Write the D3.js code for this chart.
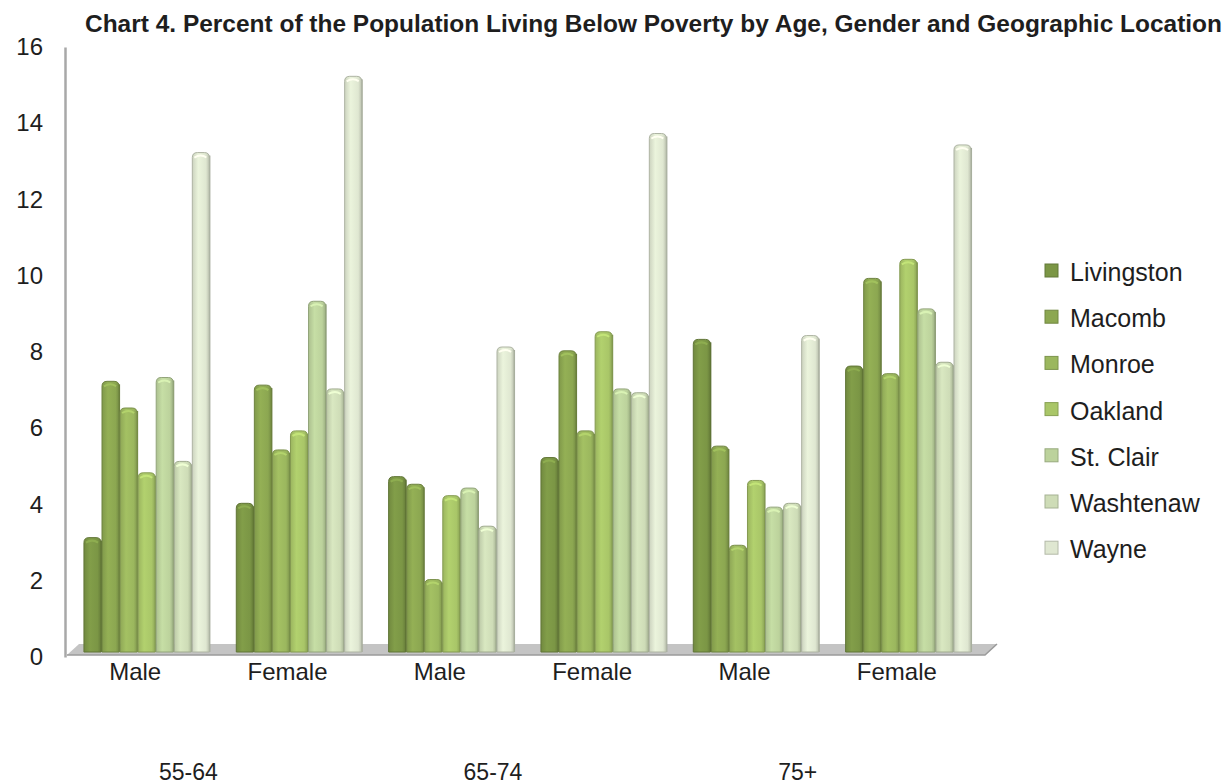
<!DOCTYPE html>
<html>
<head>
<meta charset="utf-8">
<script src="https://cdn.jsdelivr.net/npm/d3@7"></script>
<style>
    body { margin: 0; background: #fff; }
    text { font-family: "Liberation Sans", Arial, sans-serif; fill: #1e1e1e; }
</style>
</head>
<body>
<svg id="chart" width="1225" height="784"></svg>
<script>
// categories
const genders = ["Male", "Female", "Male", "Female", "Male", "Female"];
const ageGroups = ["55-64", "65-74", "75+"];
const counties = ["Livingston", "Macomb", "Monroe", "Oakland", "St. Clair", "Washtenaw", "Wayne"];
const yTicks = [0, 2, 4, 6, 8, 10, 12, 14, 16];

// percent below poverty, one array per county, in the order of the x groups
const livingston = [3.0, 3.9, 4.6, 5.1, 8.2, 7.5];
const macomb     = [7.1, 7.0, 4.4, 7.9, 5.4, 9.8];
const monroe     = [6.4, 5.3, 1.9, 5.8, 2.8, 7.3];
const oakland    = [4.7, 5.8, 4.1, 8.4, 4.5, 10.3];
const stClair    = [7.2, 9.2, 4.3, 6.9, 3.8, 9.0];
const washtenaw  = [5.0, 6.9, 3.3, 6.8, 3.9, 7.6];
const wayne      = [13.1, 15.1, 8.0, 13.6, 8.3, 13.3];
const series = [livingston, macomb, monroe, oakland, stClair, washtenaw, wayne];

const colors = ["#7b9645", "#8ca751", "#9bb75e", "#a9c668", "#bcd29c", "#cedcb7", "#dfe7d1"];

const svg = d3.select("#chart");

const y = d3.scaleLinear().domain([0, 16]).range([657, 47]);
const x = d3.scaleBand().domain(d3.range(genders.length))
    .range([71, 985]).paddingInner(0.17).paddingOuter(0.085);
const xSub = d3.scaleBand().domain(d3.range(counties.length))
    .range([0, x.bandwidth()]);

const lift = 5; // bars stand slightly in front of the back wall

// gradients for the bar faces
const defs = svg.append("defs");
colors.forEach(function(c, i) {
    const g = defs.append("linearGradient").attr("id", "grad" + i)
        .attr("x1", "0%").attr("x2", "100%").attr("y1", "0%").attr("y2", "0%");
    g.append("stop").attr("offset", "0%").attr("stop-color", d3.color(c).darker(0.25));
    g.append("stop").attr("offset", "35%").attr("stop-color", d3.color(c).brighter(0.15));
    g.append("stop").attr("offset", "80%").attr("stop-color", c);
    g.append("stop").attr("offset", "100%").attr("stop-color", d3.color(c).darker(0.5));
});

// floor
const floorY = y(0) - lift;
svg.append("path")
    .attr("d", `M67,${floorY + 3} L79,${floorY - 8} L997,${floorY - 8} L985,${floorY + 3} Z`)
    .attr("fill", "#c4c4c4");
svg.append("path")
    .attr("d", `M67,${floorY + 3} L985,${floorY + 3} L997,${floorY - 8}`)
    .attr("fill", "none").attr("stroke", "#9a9a9a").attr("stroke-width", 1.5);

// y axis
const yAxis = svg.append("g")
    .attr("transform", "translate(65,0)")
    .call(d3.axisLeft(y).tickValues(yTicks).tickSize(0).tickSizeOuter(0).tickPadding(22));
yAxis.select(".domain").attr("stroke", "#a8a8a8").attr("stroke-width", 2.5);
yAxis.selectAll("text").style("font-size", "24px").style("fill", "#1e1e1e");

// bars
const groups = svg.append("g").selectAll("g")
    .data(genders)
    .join("g")
    .attr("transform", (d, i) => `translate(${x(i)},0)`);

groups.each(function(g, gi) {
    const grp = d3.select(this);
    series.forEach(function(vals, si) {
        const bx = xSub(si);
        const bw = xSub.bandwidth() - 1;
        const top = y(vals[gi]) - lift;
        const r = 5;
        const c = colors[si];
        // right side shade
        grp.append("rect")
            .attr("x", bx + bw - 2).attr("y", top + 3)
            .attr("width", 3).attr("height", floorY - top - 3)
            .attr("fill", d3.color(c).darker(0.9));
        grp.append("path")
            .attr("d", `M${bx},${floorY} L${bx},${top + r} Q${bx},${top} ${bx + r},${top}
                        L${bx + bw - r},${top} Q${bx + bw},${top} ${bx + bw},${top + r} L${bx + bw},${floorY} Z`)
            .attr("fill", `url(#grad${si})`)
            .attr("stroke", d3.color(c).darker(0.7))
            .attr("stroke-width", 1);
        // cap highlight
        grp.append("path")
            .attr("d", `M${bx + 2},${top + 5} Q${bx + bw / 2},${top + 1} ${bx + bw - 3},${top + 5}`)
            .attr("fill", "none")
            .attr("stroke", d3.color(c).brighter(0.4))
            .attr("stroke-width", 2);
    });
});

// gender labels
svg.append("g").selectAll("text")
    .data(genders)
    .join("text")
    .attr("x", (d, i) => x(i) + x.bandwidth() / 2 - 12)
    .attr("y", 680)
    .attr("text-anchor", "middle")
    .style("font-size", "24px")
    .text(d => d);

// age labels, one per pair of gender groups
svg.append("g").selectAll("text")
    .data(ageGroups)
    .join("text")
    .attr("x", (d, i) => (x(i * 2) + x(i * 2 + 1) + x.bandwidth()) / 2 - 35)
    .attr("y", 780)
    .attr("text-anchor", "middle")
    .style("font-size", "23px")
    .text(d => d);

// legend
const legend = svg.append("g").attr("transform", "translate(1045,272)");
const items = legend.selectAll("g")
    .data(counties)
    .join("g")
    .attr("transform", (d, i) => `translate(0,${i * 46.2})`);
items.append("rect")
    .attr("x", 0).attr("y", -8).attr("width", 13).attr("height", 13)
    .attr("fill", (d, i) => colors[i])
    .attr("stroke", (d, i) => d3.color(colors[i]).darker(0.6))
    .attr("stroke-width", 1);
items.append("text")
    .attr("x", 25).attr("y", 9)
    .style("font-size", "25px")
    .text(d => d);

// title
svg.append("text")
    .attr("x", 85).attr("y", 32)
    .attr("textLength", 1137)
    .attr("lengthAdjust", "spacingAndGlyphs")
    .style("font-family", "'Liberation Sans Narrow', 'Arial Narrow', 'Liberation Sans', sans-serif")
    .style("font-weight", "bold")
    .style("font-size", "23px")
    .text("Chart 4. Percent of the Population Living Below Poverty by Age, Gender and Geographic Location");
</script>
</body>
</html>
